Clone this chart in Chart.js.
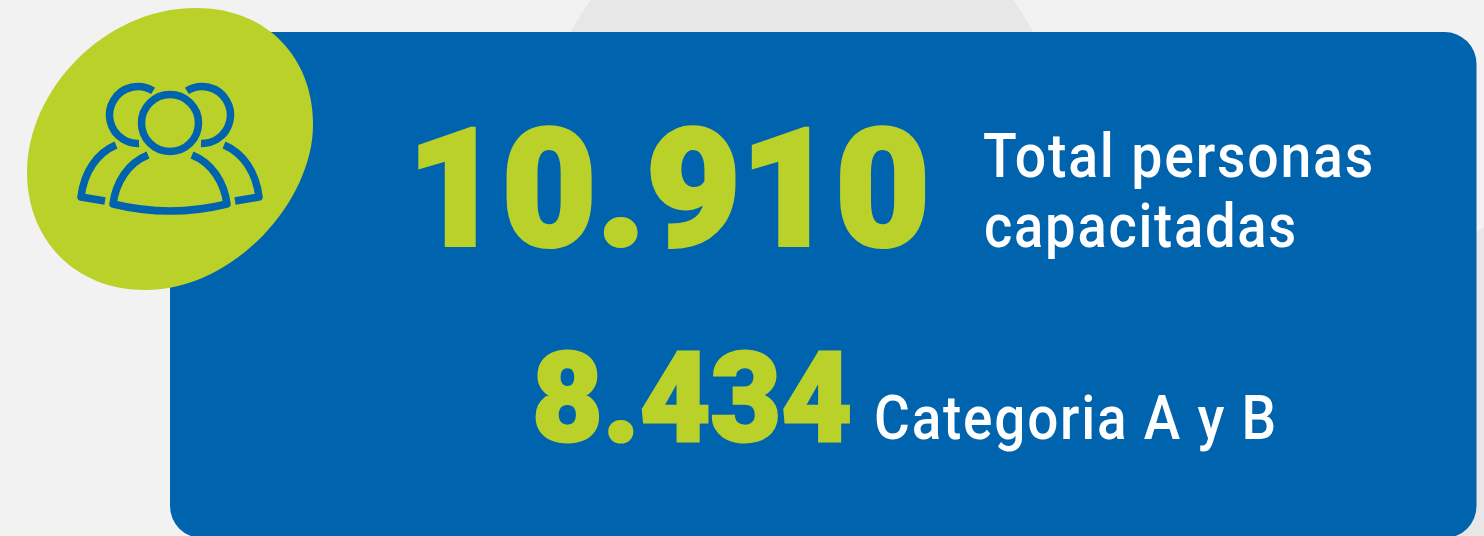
<!DOCTYPE html>
<html>
<head>
<meta charset="utf-8">
<title>Total personas capacitadas</title>
<script src="https://cdn.jsdelivr.net/npm/chart.js@4"></script>
<style>
html, body { margin: 0; padding: 0; background: #f2f2f2; overflow: hidden; }
canvas { display: block; }
</style>
</head>
<body>
<canvas id="stage" width="1484" height="536"></canvas>
<script>
// datos
var categories = ['Total personas capacitadas', 'Categoria A y B'];
var totals = [10910, 8434];

var BLUE = '#0063ae';
var GREEN = '#bad129';

function miles(n) {
    return String(n).replace(/\B(?=(\d{3})+$)/g, '.');
}

// texto ajustado al ancho de la referencia
function fitText(ctx, text, x0, x1, base, font, color, spacing, stroke) {
    ctx.save();
    ctx.font = font;
    ctx.fillStyle = color;
    ctx.letterSpacing = spacing || '0px';
    ctx.textAlign = 'left';
    ctx.textBaseline = 'alphabetic';
    var w = ctx.measureText(text).width;
    ctx.translate(x0, base);
    ctx.scale((x1 - x0) / w, 1);
    ctx.fillText(text, 0, 0);
    if (stroke) {
        ctx.strokeStyle = color;
        ctx.lineWidth = stroke;
        ctx.lineJoin = 'miter';
        ctx.strokeText(text, 0, 0);
    }
    ctx.restore();
}

function drawIcon(ctx) {
    ctx.save();
    ctx.strokeStyle = BLUE;
    ctx.lineWidth = 7.5;
    ctx.lineJoin = 'round';
    var rad = Math.PI / 180;

    // cabezas
    ctx.beginPath();
    ctx.arc(170, 123, 28.5, 0, Math.PI * 2);
    ctx.stroke();
    ctx.beginPath();
    ctx.arc(138, 115, 28.5, -58 * rad, 88 * rad, true);
    ctx.stroke();
    ctx.beginPath();
    ctx.arc(202, 115, 28.5, -122 * rad, 92 * rad, false);
    ctx.stroke();

    // cuerpo central
    ctx.beginPath();
    ctx.moveTo(148, 155);
    ctx.bezierCurveTo(128, 163, 116, 182, 113, 204);
    ctx.quadraticCurveTo(170, 218, 227, 204);
    ctx.bezierCurveTo(224, 182, 212, 163, 192, 155);
    ctx.stroke();

    // cuerpos laterales
    ctx.beginPath();
    ctx.moveTo(116, 145);
    ctx.bezierCurveTo(97, 153, 84, 172, 81, 197);
    ctx.lineTo(105, 201);
    ctx.stroke();
    ctx.beginPath();
    ctx.moveTo(224, 145);
    ctx.bezierCurveTo(243, 153, 256, 172, 259, 197);
    ctx.lineTo(235, 201);
    ctx.stroke();
    ctx.restore();
}

var cardPlugin = {
    id: 'card',
    afterDraw: function (chart) {
        var ctx = chart.ctx;
        var values = chart.data.datasets[0].data;
        ctx.save();

        // fondo
        ctx.fillStyle = '#f2f2f2';
        ctx.fillRect(0, 0, 1484, 536);
        ctx.fillStyle = '#e7e7e7';
        ctx.beginPath();
        ctx.arc(802, 155, 262, 0, Math.PI * 2);
        ctx.fill();
        ctx.beginPath();
        ctx.arc(1749, 651, 500, 0, Math.PI * 2);
        ctx.fill();

        // tarjeta azul
        ctx.fillStyle = BLUE;
        ctx.beginPath();
        ctx.roundRect(170, 32, 1306.5, 506, 32);
        ctx.fill();

        // mancha verde
        ctx.fillStyle = GREEN;
        ctx.beginPath();
        ctx.moveTo(195, 8);
        ctx.bezierCurveTo(270, 8, 313, 60, 313, 125);
        ctx.bezierCurveTo(313, 200, 235, 290, 145, 290);
        ctx.bezierCurveTo(75, 290, 27, 240, 27, 172);
        ctx.bezierCurveTo(27, 90, 105, 8, 195, 8);
        ctx.fill();

        drawIcon(ctx);

        // cifras
        fitText(ctx, miles(values[0]), 407, 930, 245, '900 164px Roboto', GREEN, '0px', 4);
        fitText(ctx, miles(values[1]), 532, 852, 441, '900 124px Roboto', GREEN, '0px', 3);

        // textos
        fitText(ctx, 'Total personas', 983, 1375, 177, '500 62px Roboto', '#ffffff', '2px');
        fitText(ctx, 'capacitadas', 984, 1298, 247, '500 62px Roboto', '#ffffff', '2px');
        fitText(ctx, categories[1], 874, 1278, 439, '500 62px Roboto', '#ffffff', '2px');
        ctx.restore();
    }
};

var canvas = document.getElementById('stage');
var chart = new Chart(canvas, {
    type: 'bar',
    data: {
        labels: categories,
        datasets: [{ label: 'Personas', data: totals, backgroundColor: 'transparent' }]
    },
    options: {
        responsive: false,
        animation: false,
        plugins: { legend: { display: false }, tooltip: { enabled: false } },
        scales: { x: { display: false }, y: { display: false } }
    },
    plugins: [cardPlugin]
});
</script>
</body>
</html>
